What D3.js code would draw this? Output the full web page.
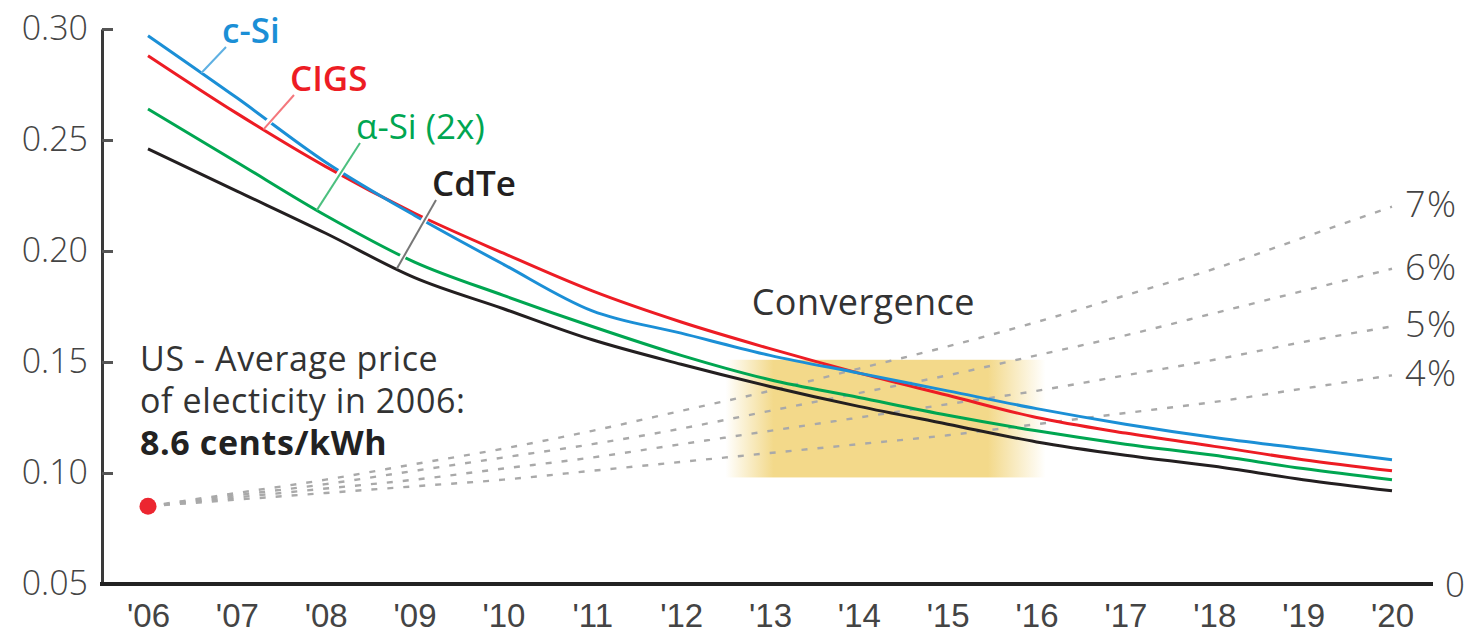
<!DOCTYPE html>
<html>
<head>
<meta charset="utf-8">
<script src="https://cdn.jsdelivr.net/npm/d3@7"></script>
<style>
  body { margin: 0; background: #fff; }
  svg { display: block; font-family: "Open Sans", "Noto Sans", sans-serif; }
</style>
</head>
<body>
<div id="chart"></div>
<script>
// years on the x axis
const years = [2006, 2007, 2008, 2009, 2010, 2011, 2012, 2013, 2014, 2015, 2016, 2017, 2018, 2019, 2020];
const yearLabels = ["'06", "'07", "'08", "'09", "'10", "'11", "'12", "'13", "'14", "'15", "'16", "'17", "'18", "'19", "'20"];
const yTicks = [0.05, 0.10, 0.15, 0.20, 0.25, 0.30];

// cost per kWh by technology
const cSi  = [0.297, 0.269, 0.240, 0.216, 0.194, 0.173, 0.163, 0.153, 0.145, 0.137, 0.129, 0.122, 0.116, 0.111, 0.106];
const cigs = [0.288, 0.262, 0.238, 0.217, 0.199, 0.182, 0.168, 0.156, 0.145, 0.135, 0.125, 0.118, 0.112, 0.106, 0.101];
const aSi  = [0.264, 0.240, 0.216, 0.195, 0.180, 0.166, 0.153, 0.142, 0.134, 0.126, 0.119, 0.113, 0.108, 0.102, 0.097];
const cdte = [0.246, 0.227, 0.208, 0.188, 0.174, 0.160, 0.149, 0.139, 0.130, 0.122, 0.114, 0.108, 0.103, 0.097, 0.092];

// electricity price growth scenarios from 8.6 cents in 2006
const growthNames = ["7%", "6%", "5%", "4%"];
const grow7 = [0.085, 0.091, 0.097, 0.104, 0.111, 0.119, 0.128, 0.137, 0.147, 0.157, 0.168, 0.180, 0.192, 0.206, 0.220];
const grow6 = [0.085, 0.090, 0.095, 0.101, 0.107, 0.113, 0.120, 0.128, 0.136, 0.144, 0.153, 0.162, 0.172, 0.182, 0.192];
const grow5 = [0.085, 0.089, 0.093, 0.097, 0.102, 0.107, 0.113, 0.119, 0.125, 0.131, 0.137, 0.144, 0.151, 0.159, 0.166];
const grow4 = [0.085, 0.088, 0.091, 0.094, 0.097, 0.101, 0.105, 0.109, 0.113, 0.117, 0.122, 0.127, 0.132, 0.138, 0.144];

const price2006 = 0.085;
const convergenceYears = [2012.5, 2016.1];
const convergenceValues = [0.098, 0.151];

const width = 1477, height = 637;

const x = d3.scaleLinear().domain([2006, 2020]).range([148, 1392]);
const y = d3.scaleLinear().domain([0.05, 0.30]).range([584, 29]);

const svg = d3.select("#chart").append("svg")
  .attr("width", width)
  .attr("height", height);

// convergence band
const defs = svg.append("defs");
const grad = defs.append("linearGradient").attr("id", "conv").attr("x1", "0").attr("x2", "1");
[[0, 0], [0.15, 1], [0.82, 1], [1, 0]].forEach(function(s) {
  grad.append("stop").attr("offset", s[0]).attr("stop-color", "#f3d98a").attr("stop-opacity", s[1]);
});
svg.append("rect")
  .attr("x", x(convergenceYears[0]))
  .attr("y", y(convergenceValues[1]))
  .attr("width", x(convergenceYears[1]) - x(convergenceYears[0]))
  .attr("height", y(convergenceValues[0]) - y(convergenceValues[1]))
  .attr("fill", "url(#conv)");

svg.append("text")
  .attr("x", x(2014.05))
  .attr("y", 315)
  .attr("text-anchor", "middle")
  .attr("font-size", 36)
  .attr("letter-spacing", 0.4)
  .attr("fill", "#333")
  .text("Convergence");

// y axis, ticks pointing inward
const yAxis = svg.append("g")
  .attr("transform", `translate(${102},0)`)
  .call(d3.axisLeft(y).tickValues(yTicks).tickFormat(d3.format(".2f"))
    .tickSizeInner(-11).tickSizeOuter(0).tickPadding(14));
yAxis.select(".domain").attr("stroke", "#3a3a3a").attr("stroke-width", 3);
yAxis.selectAll(".tick line").attr("stroke", "#555").attr("stroke-width", 3);
yAxis.selectAll(".tick text")
  .attr("font-size", 34).attr("fill", "#444")
  .attr("font-family", "Open Sans").attr("font-weight", 300);

// baseline
svg.append("line")
  .attr("x1", 100).attr("x2", 1433)
  .attr("y1", y(0.05)).attr("y2", y(0.05))
  .attr("stroke", "#222").attr("stroke-width", 4);
svg.append("text")
  .attr("x", 1445).attr("y", y(0.05))
  .attr("dy", "0.36em")
  .attr("font-size", 35).attr("font-weight", 300).attr("fill", "#444")
  .text("0");

const xAxis = svg.append("g")
  .attr("transform", `translate(0,${602})`)
  .call(d3.axisBottom(x).tickValues(years).tickFormat(function(d, i) { return yearLabels[i]; })
    .tickSize(0).tickPadding(0));
xAxis.select(".domain").remove();
xAxis.selectAll(".tick text")
  .attr("font-size", 33).attr("fill", "#444").attr("font-weight", 300)
  .attr("dy", "0.75em");

// growth scenarios (dashed)
const dashLine = d3.line()
  .x(function(d, i) { return x(years[i]); })
  .y(function(d) { return y(d); })
  .curve(d3.curveMonotoneX);

[grow7, grow6, grow5, grow4].forEach(function(s, k) {
  svg.append("path")
    .datum(s)
    .attr("fill", "none")
    .attr("stroke", "#a9a9a9")
    .attr("stroke-width", 2.4)
    .attr("stroke-dasharray", "6,10")
    .attr("d", dashLine);
  svg.append("text")
    .attr("x", x(2020) + 13)
    .attr("y", y(s[s.length - 1]))
    .attr("dy", "0.3em")
    .attr("font-size", 36).attr("font-weight", 300).attr("fill", "#444")
    .attr("letter-spacing", 1.5)
    .text(growthNames[k]);
});

svg.append("circle")
  .attr("cx", x(2006)).attr("cy", y(price2006))
  .attr("r", 8.5)
  .attr("fill", "#ec2630");

// technology curves
const series = [
  { name: "CdTe",       values: cdte, color: "#231f20", light: "#777",    weight: 600, at: 2008.8, lx: 432, ly: 196 },
  { name: "\u03b1-Si (2x)", values: aSi,  color: "#00a651", light: "#4cc07f", weight: 500, at: 2007.9, lx: 356, ly: 139 },
  { name: "CIGS",       values: cigs, color: "#ed1c24", light: "#f4777c", weight: 600, at: 2007.3, lx: 290, ly: 91 },
  { name: "c-Si",       values: cSi,  color: "#1b8fd6", light: "#5fb0e2", weight: 600, at: 2006.6, lx: 222, ly: 43 }
];

const line = d3.line()
  .x(function(d, i) { return x(years[i]); })
  .y(function(d) { return y(d); })
  .curve(d3.curveMonotoneX);

series.forEach(function(s) {
  svg.append("path")
    .datum(s.values)
    .attr("fill", "none")
    .attr("stroke", s.color)
    .attr("stroke-width", 3)
    .attr("d", line);
});

function valueAt(values, yr) {
  const i = Math.min(Math.floor(yr - 2006), values.length - 2);
  const t = yr - 2006 - i;
  return values[i] + (values[i + 1] - values[i]) * t;
}

// leaders + labels
series.forEach(function(s) {
  const px = x(s.at), py = y(valueAt(s.values, s.at));
  const tx = s.lx + 4, ty = s.ly + 4;
  svg.append("line")
    .attr("x1", tx).attr("y1", ty).attr("x2", px).attr("y2", py - 2)
    .attr("stroke", "#fff").attr("stroke-width", 6);
  svg.append("line")
    .attr("x1", tx).attr("y1", ty).attr("x2", px).attr("y2", py)
    .attr("stroke", s.light).attr("stroke-width", 2);
  svg.append("text")
    .attr("x", s.lx).attr("y", s.ly)
    .attr("font-size", 35)
    .attr("font-weight", s.weight)
    .attr("fill", s.color)
    .text(s.name);
});

// note about 2006 price
const note = svg.append("text")
  .attr("font-size", 34)
  .attr("letter-spacing", 0.6)
  .attr("fill", "#333");
note.append("tspan").attr("x", 140).attr("y", 371).text("US - Average price");
note.append("tspan").attr("x", 140).attr("y", 413).text("of electicity in 2006:");
note.append("tspan").attr("x", 140).attr("y", 455).attr("font-weight", 700).attr("fill", "#222").text("8.6 cents/kWh");
</script>
</body>
</html>
